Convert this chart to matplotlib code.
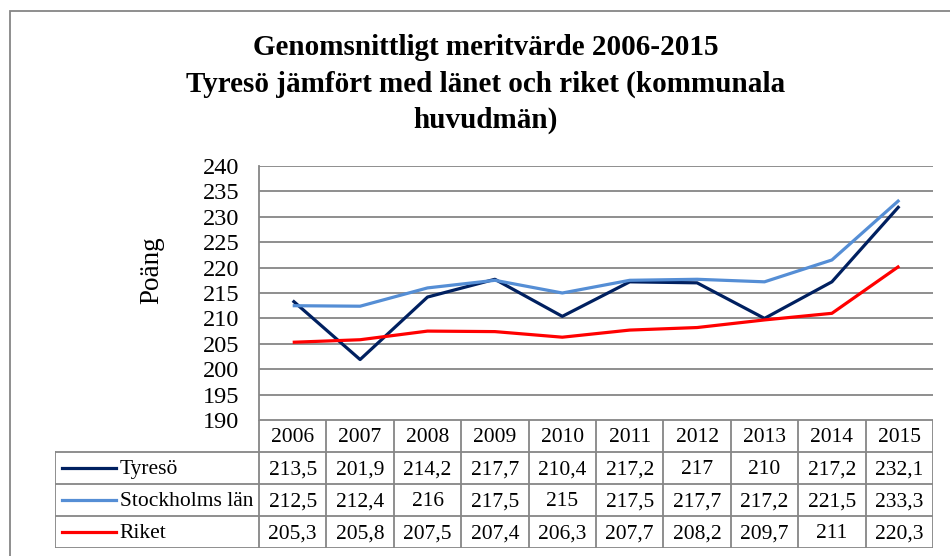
import numpy as np
import matplotlib.pyplot as plt
from matplotlib.patches import Rectangle

plt.rcParams['font.family'] = ['Liberation Serif', 'DejaVu Serif']

years = ['2006', '2007', '2008', '2009', '2010', '2011', '2012', '2013', '2014', '2015']
series_names = ['Tyresö', 'Stockholms län', 'Riket']
tyreso = [213.5, 201.9, 214.2, 217.7, 210.4, 217.2, 217, 210, 217.2, 232.1]
stockholm = [212.5, 212.4, 216, 217.5, 215, 217.5, 217.7, 217.2, 221.5, 233.3]
riket = [205.3, 205.8, 207.5, 207.4, 206.3, 207.7, 208.2, 209.7, 211, 220.3]
colors = ['#002060', '#558ED5', '#FF0000']
title = 'Genomsnittligt meritvärde 2006-2015\nTyresö jämfört med länet och riket (kommunala\nhuvudmän)'

W, H = 950, 556
fig = plt.figure(figsize=(W / 100, H / 100), dpi=100)

def box(x0, y0, x1, y1):
    # pixel box (top-left origin) -> figure fraction rect
    return [x0 / W, 1 - y1 / H, (x1 - x0) / W, (y1 - y0) / H]

grid_c = '#868686'

# outer frame (cut at right/bottom like the screenshot)
fig.add_artist(Rectangle((10 / W, -0.05), 1.1, 1 - 11 / H + 0.05, transform=fig.transFigure,
                         fill=False, edgecolor=grid_c, linewidth=1.3))

# main plot
px0, px1, py0, py1 = 259, 933, 166, 420
ax = fig.add_axes(box(px0, py0, px1, py1))
x = np.arange(len(years))
for vals, c in zip([tyreso, stockholm, riket], colors):
    ax.plot(x, vals, color=c, linewidth=2.3, solid_capstyle='butt')
ax.set_xlim(-0.5, len(years) - 0.5)
ax.set_ylim(190, 240)
ax.set_yticks(np.arange(190, 241, 5))
ax.set_xticks([])
ax.tick_params(axis='y', length=0, labelsize=17.5, pad=14)
ax.grid(axis='y', color=grid_c, linewidth=1.3)
ax.set_axisbelow(True)
for s in ['top', 'right', 'bottom']:
    ax.spines[s].set_visible(False)
ax.spines['left'].set_color(grid_c)
ax.spines['left'].set_linewidth(1.3)

fig.text(152 / W, 1 - 270 / H, 'Poäng', rotation=90, fontsize=19.5, ha='center', va='center')
fig.text(486 / W, 1 - 84 / H, title, fontsize=21, fontweight='bold', ha='center', va='center',
         linespacing=1.42)

# data table below the plot
tx0, ty0, ty1 = 55, 420, 548
unit = (px1 - px0) / len(years)
left = -0.5 - (px0 - tx0) / unit
tab = fig.add_axes(box(tx0, ty0, px1, ty1))
tab.set_xlim(left, len(years) - 0.5)
tab.set_ylim(4, 0)
tab.axis('off')
lw = 1.3
# horizontal lines
tab.plot([-0.5, len(years) - 0.5], [0, 0], color=grid_c, lw=lw)
for r in [1, 2, 3, 4]:
    tab.plot([left, len(years) - 0.5], [r, r], color=grid_c, lw=lw)
# vertical lines
tab.plot([left, left], [1, 4], color=grid_c, lw=lw)
for i in range(len(years) + 1):
    tab.plot([i - 0.5, i - 0.5], [0, 4], color=grid_c, lw=lw)
fs = 15.5
for i, yr in enumerate(years):
    tab.text(i, 0.55, yr, ha='center', va='center', fontsize=fs)
for r, (name, vals, c) in enumerate(zip(series_names, [tyreso, stockholm, riket], colors), start=1):
    tab.plot([left + 0.11, left + 0.91], [r + 0.5, r + 0.5], color=c, lw=2.3)
    tab.text(left + 0.96, r + 0.55, name, ha='left', va='center', fontsize=fs)
    for i, v in enumerate(vals):
        tab.text(i, r + 0.55, f'{v:g}'.replace('.', ','), ha='center', va='center', fontsize=fs)

fig.savefig('out.png', dpi=100)
